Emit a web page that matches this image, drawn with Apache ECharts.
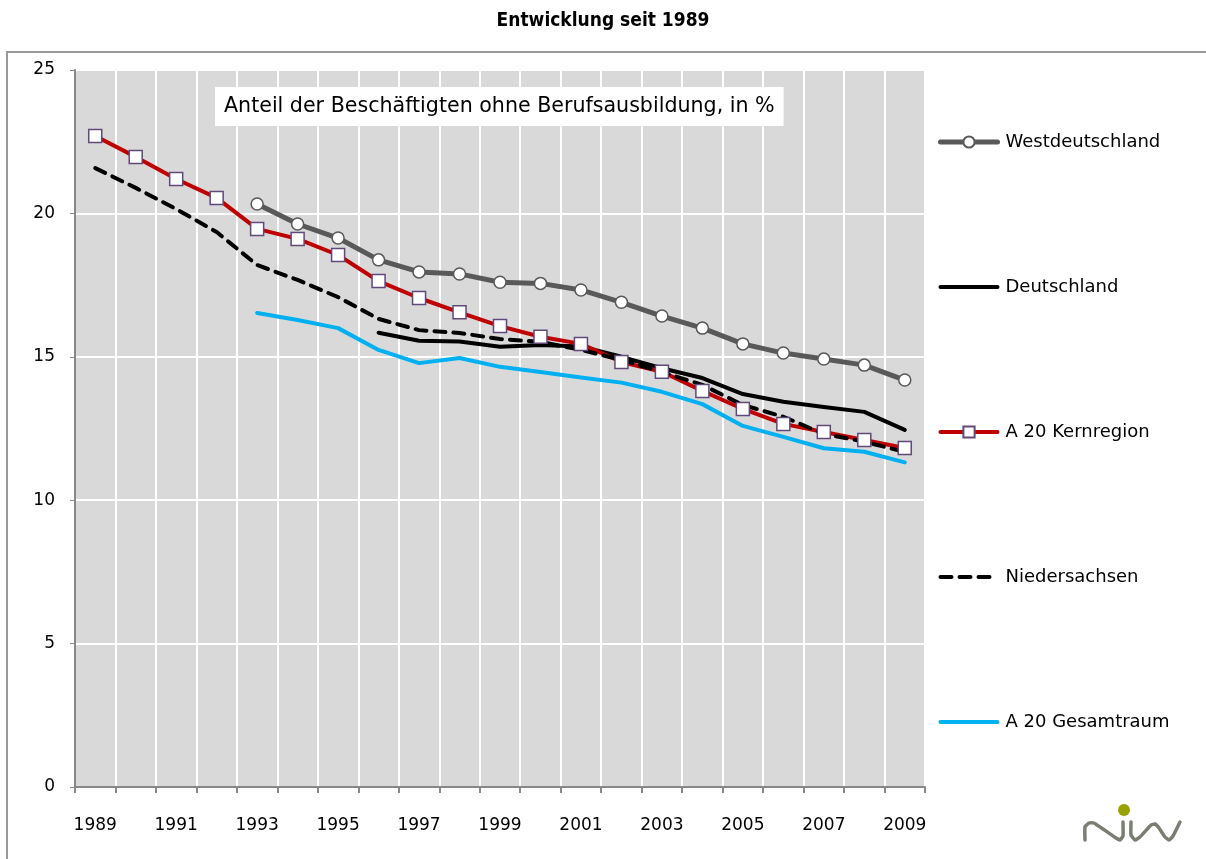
<!DOCTYPE html>
<html>
<head>
<meta charset="utf-8">
<script src="https://cdn.jsdelivr.net/npm/echarts@6/dist/echarts.min.js"></script>
<style>
  html, body { margin: 0; padding: 0; background: #fff; }
  #chart { width: 1206px; height: 859px; }
</style>
</head>
<body>
<div id="chart"></div>
<script>
// Jahre 1989..2009, Beschriftung nur jedes zweite Jahr
const years = ['1989', '1990', '1991', '1992', '1993', '1994', '1995', '1996', '1997', '1998', '1999',
  '2000', '2001', '2002', '2003', '2004', '2005', '2006', '2007', '2008', '2009'];

const westdeutschland = [null, null, null, null, 20.33, 19.63, 19.14, 18.38, 17.96, 17.89, 17.60,
  17.56, 17.33, 16.90, 16.42, 16.00, 15.45, 15.13, 14.92, 14.71, 14.19];
const deutschland = [null, null, null, null, null, null, null, 15.84, 15.56, 15.53, 15.35,
  15.41, 15.36, 15.00, 14.60, 14.26, 13.70, 13.43, 13.25, 13.08, 12.45];
const kernregion = [22.70, 21.97, 21.20, 20.54, 19.46, 19.11, 18.55, 17.64, 17.05, 16.55, 16.07,
  15.70, 15.45, 14.82, 14.48, 13.81, 13.18, 12.66, 12.38, 12.10, 11.82];
const niedersachsen = [21.58, 20.89, 20.15, 19.35, 18.20, 17.68, 17.08, 16.32, 15.93, 15.83, 15.62,
  15.52, 15.24, 14.89, 14.47, 14.02, 13.32, 12.91, 12.31, 12.04, 11.68];
const gesamtraum = [null, null, null, null, 16.53, 16.28, 16.00, 15.24, 14.78, 14.96, 14.65,
  14.47, 14.28, 14.10, 13.78, 13.35, 12.59, 12.21, 11.81, 11.69, 11.32];

const FONT = '"DejaVu Sans Condensed", "DejaVu Sans", sans-serif';
const FONT_WIDE = '"DejaVu Sans", sans-serif';

const chart = echarts.init(document.getElementById('chart'), null, { renderer: 'canvas' });

const lineBase = { cap: 'round', join: 'round' };
const logoStroke = { fill: 'none', stroke: '#7a7d72', lineWidth: 3.5, lineCap: 'round', lineJoin: 'round' };
const noDot = { opacity: 0 };

chart.setOption({
  animation: false,
  textStyle: { fontFamily: FONT, color: '#000' },
  title: [
    {
      text: 'Entwicklung seit 1989',
      left: 'center',
      top: 7,
      textStyle: { fontFamily: FONT, fontSize: 19, fontWeight: 'bold', color: '#000' }
    },
    {
      text: 'Anteil der Beschäftigten ohne Berufsausbildung, in %',
      left: 215,
      top: 87,
      backgroundColor: '#fff',
      padding: [9, 9, 9, 9],
      textStyle: { fontFamily: FONT_WIDE, fontSize: 20.6, fontWeight: 'normal', color: '#000' }
    }
  ],
  graphic: [
    {
      type: 'rect',
      z: -10,
      shape: { x: 7, y: 52, width: 1220, height: 830 },
      style: { fill: 'none', stroke: '#999', lineWidth: 2 }
    },
    // niw-Logo unten rechts
    {
      type: 'circle',
      shape: { cx: 1124, cy: 810, r: 6 },
      style: { fill: '#99a200' }
    },
    {
      type: 'polyline',
      shape: {
        points: [[1085, 840], [1085, 827], [1089, 823], [1094, 823], [1116, 838], [1120, 840], [1123, 836], [1123, 822]],
        smooth: 0.12
      },
      style: logoStroke
    },
    {
      type: 'polyline',
      shape: {
        points: [[1131, 822], [1131, 835], [1135, 840], [1140, 837], [1151, 825], [1155, 824], [1159, 828],
          [1165, 837], [1169, 840], [1173, 836], [1180, 822]],
        smooth: 0.12
      },
      style: logoStroke
    }
  ],
  legend: {
    orient: 'vertical',
    left: 933,
    top: 128,
    itemWidth: 57,
    itemHeight: 14,
    itemGap: 127,
    lineStyle: { width: 'inherit' },
    textStyle: { fontFamily: FONT_WIDE, fontSize: 18, color: '#000', padding: [0, 0, 0, 3] },
    data: [
      { name: 'Westdeutschland' },
      { name: 'Deutschland', itemStyle: noDot },
      { name: 'A 20 Kernregion' },
      { name: 'Niedersachsen', itemStyle: noDot },
      { name: 'A 20 Gesamtraum', itemStyle: noDot }
    ]
  },
  grid: {
    left: 75,
    right: 281,
    top: 70,
    bottom: 72,
    show: true,
    backgroundColor: '#d9d9d9',
    borderWidth: 0
  },
  xAxis: {
    type: 'category',
    data: years,
    boundaryGap: true,
    axisLine: { lineStyle: { color: '#888', width: 2 } },
    axisTick: { show: true, interval: 0, length: 6, lineStyle: { color: '#888', width: 2 } },
    axisLabel: { interval: 1, margin: 30, fontSize: 17, color: '#000', fontFamily: FONT_WIDE },
    splitLine: { show: true, interval: 0, lineStyle: { color: '#fff', width: 2 } }
  },
  yAxis: {
    type: 'value',
    min: 0,
    max: 25,
    interval: 5,
    axisLine: { show: true, lineStyle: { color: '#888', width: 2 } },
    axisTick: { show: true, length: 5, lineStyle: { color: '#888', width: 1 } },
    axisLabel: { margin: 20, fontSize: 17, color: '#000', fontFamily: FONT_WIDE },
    splitLine: { show: true, lineStyle: { color: '#fff', width: 2 } }
  },
  series: [
    {
      name: 'Westdeutschland',
      type: 'line',
      data: westdeutschland,
      symbol: 'circle',
      symbolSize: 12,
      lineStyle: { ...lineBase, color: '#595959', width: 5 },
      itemStyle: { color: '#fff', borderColor: '#595959', borderWidth: 1.5 }
    },
    {
      name: 'Deutschland',
      type: 'line',
      data: deutschland,
      symbol: 'none',
      lineStyle: { ...lineBase, color: '#000', width: 4 },
      itemStyle: { color: '#000' }
    },
    {
      name: 'A 20 Kernregion',
      type: 'line',
      data: kernregion,
      symbol: 'rect',
      symbolSize: 13,
      lineStyle: { ...lineBase, color: '#c00000', width: 4 },
      itemStyle: { color: '#fff', borderColor: '#604a7b', borderWidth: 1.5 }
    },
    {
      name: 'Niedersachsen',
      type: 'line',
      data: niedersachsen,
      symbol: 'none',
      lineStyle: { ...lineBase, color: '#000', width: 4, type: [11, 8] },
      itemStyle: { color: '#000' }
    },
    {
      name: 'A 20 Gesamtraum',
      type: 'line',
      data: gesamtraum,
      symbol: 'none',
      lineStyle: { ...lineBase, color: '#00b0f0', width: 4 },
      itemStyle: { color: '#00b0f0' }
    }
  ]
});
</script>
</body>
</html>
